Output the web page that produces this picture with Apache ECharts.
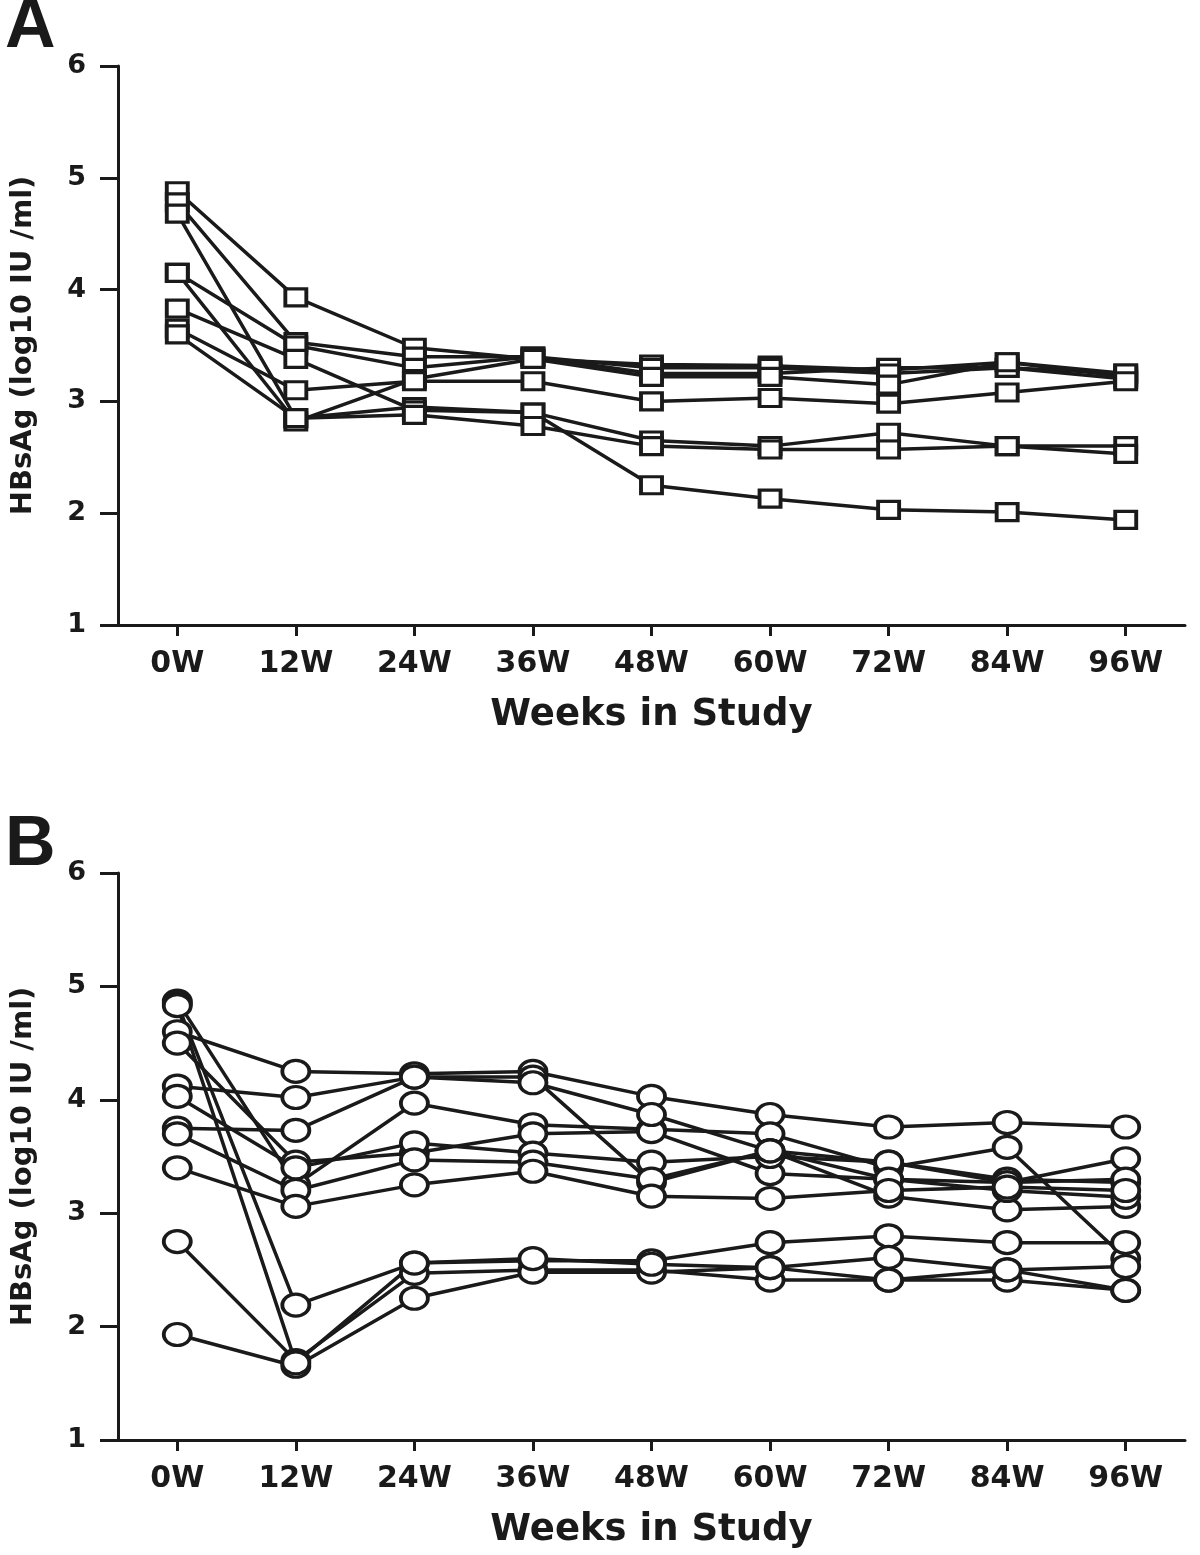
<!DOCTYPE html>
<html><head><meta charset="utf-8">
<script src="https://cdn.jsdelivr.net/npm/echarts@6/dist/echarts.min.js"></script>
<style>html,body{margin:0;padding:0;background:#fff}#c{width:1200px;height:1555px}</style>
</head><body><div id="c"></div>
<script>
const weeks = ['0W','12W','24W','36W','48W','60W','72W','84W','96W'];
const yTicks = [1,2,3,4,5,6];

// Panel A (squares)
const a1 = [4.88,3.93,3.48,3.38,3.33,3.32,3.28,3.35,3.22];
const a2 = [4.78,3.53,3.40,3.40,3.25,3.25,3.30,3.30,3.25];
const a3 = [4.68,2.85,2.95,2.90,2.65,2.60,2.72,2.60,2.60];
const a4 = [4.15,3.50,3.30,3.40,3.30,3.30,3.25,3.30,3.20];
const a5 = [4.15,2.82,3.20,3.38,3.22,3.22,3.15,3.35,3.25];
const a6 = [3.83,3.38,2.92,2.90,2.25,2.13,2.03,2.01,1.94];
const a7 = [3.65,3.10,3.18,3.18,3.00,3.03,2.98,3.08,3.18];
const a8 = [3.60,2.85,2.88,2.78,2.60,2.57,2.57,2.60,2.53];

// Panel B (circles)
const b1 = [4.60,4.25,4.23,4.25,4.03,3.87,3.76,3.80,3.76];
const b2 = [4.87,3.25,3.97,3.78,3.74,3.70,3.40,3.58,2.60];
const b3 = [4.50,3.45,3.53,3.70,3.72,3.35,3.30,3.27,3.48];
const b4 = [4.12,4.02,4.20,4.20,3.27,3.55,3.45,3.30,3.27];
const b5 = [4.03,3.40,3.62,3.53,3.45,3.50,3.45,3.27,3.30];
const b6 = [3.75,3.73,4.20,4.15,3.87,3.55,3.15,3.03,3.06];
const b7 = [3.70,3.20,3.47,3.45,3.30,3.55,3.30,3.20,3.14];
const b8 = [3.40,3.06,3.25,3.37,3.15,3.13,3.20,3.23,3.20];
const b9 = [4.85,2.19,2.56,2.58,2.58,2.74,2.80,2.74,2.74];
const b10 = [2.75,1.70,2.47,2.50,2.50,2.41,2.41,2.41,2.32];
const b11 = [1.93,1.65,2.25,2.48,2.48,2.52,2.61,2.50,2.32];
const b12 = [4.83,1.68,2.56,2.60,2.55,2.52,2.41,2.50,2.53];

const seriesA = [a1,a2,a3,a4,a5,a6,a7,a8];
const seriesB = [b1,b2,b3,b4,b5,b6,b7,b8,b9,b10,b11,b12];

const INK = '#1a1a1a';
const FONT = 'Liberation Sans, Arial, sans-serif';
const WIDE = 'DejaVu Sans, Liberation Sans, sans-serif';

function xAxis(gi){
  return {
    type:'category', gridIndex:gi, data:weeks, boundaryGap:true,
    axisLine:{lineStyle:{color:INK,width:3}},
    axisTick:{show:true,alignWithLabel:true,length:11,lineStyle:{color:INK,width:3}},
    axisLabel:{color:INK,fontFamily:WIDE,fontWeight:'bold',fontSize:30,margin:24},
    name:'Weeks in Study', nameLocation:'middle', nameGap:72,
    nameTextStyle:{color:INK,fontFamily:WIDE,fontWeight:'bold',fontSize:37,verticalAlign:'top'}
  };
}
function yAxis(gi){
  return {
    type:'value', gridIndex:gi, min:yTicks[0], max:yTicks[yTicks.length-1], interval:1,
    splitLine:{show:false},
    axisLine:{show:true,lineStyle:{color:INK,width:3}},
    axisTick:{show:true,inside:false,length:18,lineStyle:{color:INK,width:3}},
    axisLabel:{color:INK,fontFamily:WIDE,fontWeight:'bold',fontSize:27,margin:32},
    name:'HBsAg (log10 IU /ml)', nameLocation:'middle', nameGap:80, nameRotate:90,
    nameTextStyle:{color:INK,fontFamily:WIDE,fontWeight:'bold',fontSize:29}
  };
}
function mk(data, gi, symbol, size){
  return {
    type:'line', xAxisIndex:gi, yAxisIndex:gi, data:data,
    symbol:symbol, symbolSize:size, showAllSymbol:true,
    lineStyle:{color:INK,width:3.5},
    itemStyle:{color:'#fff',borderColor:INK,borderWidth:3.5},
    z:2, animation:false
  };
}

const chart = echarts.init(document.getElementById('c'), null, {renderer:'canvas'});
chart.setOption({
  backgroundColor:'#fff',
  animation:false,
  title:[
    {text:'A', left:0, top:-12, textStyle:{fontFamily:FONT,fontWeight:'bold',fontSize:70,color:INK}},
    {text:'B', left:0, top:806, textStyle:{fontFamily:FONT,fontWeight:'bold',fontSize:70,color:INK}}
  ],
  grid:[
    {left:118, top:66, width:1067, height:559},
    {left:118, top:873, width:1067, height:567}
  ],
  xAxis:[xAxis(0), xAxis(1)],
  yAxis:[yAxis(0), yAxis(1)],
  series:[].concat(
    seriesA.map(d=>mk(d,0,'rect',[21,17])),
    seriesB.map(d=>mk(d,1,'circle',[27,22]))
  )
});
</script></body></html>
